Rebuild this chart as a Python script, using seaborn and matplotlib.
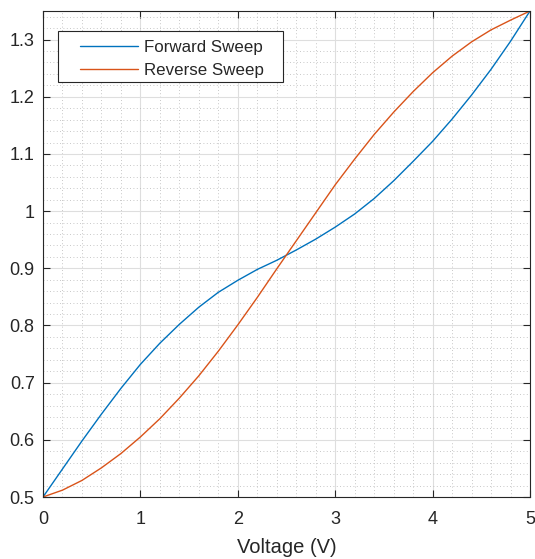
import matplotlib
matplotlib.use("Agg")
import matplotlib.pyplot as plt
import seaborn as sns
import pandas as pd
from matplotlib.ticker import MultipleLocator, FuncFormatter
from matplotlib.patches import Rectangle

voltage = [0.0, 0.2, 0.4, 0.6, 0.8, 1.0, 1.2, 1.4, 1.6, 1.8, 2.0, 2.2, 2.4,
           2.6, 2.8, 3.0, 3.2, 3.4, 3.6, 3.8, 4.0, 4.2, 4.4, 4.6, 4.8, 5.0]
forward = [0.500, 0.549, 0.598, 0.645, 0.690, 0.732, 0.769, 0.802, 0.832, 0.858,
           0.879, 0.898, 0.914, 0.932, 0.951, 0.972, 0.995, 1.022, 1.053, 1.087,
           1.122, 1.161, 1.203, 1.248, 1.297, 1.350]
reverse = [0.500, 0.512, 0.529, 0.551, 0.576, 0.605, 0.637, 0.673, 0.712, 0.755,
           0.801, 0.849, 0.899, 0.948, 0.997, 1.046, 1.091, 1.134, 1.173, 1.209,
           1.242, 1.271, 1.296, 1.317, 1.334, 1.350]
series_names = ["Forward Sweep", "Reverse Sweep"]
colors = ["#0072BD", "#D95319"]
x_ticks = [0, 1, 2, 3, 4, 5]
y_ticks = [0.5, 0.6, 0.7, 0.8, 0.9, 1.0, 1.1, 1.2, 1.3]

df = pd.DataFrame({
    "Voltage": voltage * 2,
    "Value": forward + reverse,
    "Series": [series_names[0]] * len(voltage) + [series_names[1]] * len(voltage),
})

sns.set_style("white")
plt.rcParams["font.family"] = ["Liberation Sans", "DejaVu Sans"]

W, H = 535, 559
fig = plt.figure(figsize=(W / 100, H / 100), dpi=100)
ax_l, ax_r, ax_t, ax_b = 43, 530, 11, 497
ax = fig.add_axes([ax_l / W, 1 - ax_b / H, (ax_r - ax_l) / W, (ax_b - ax_t) / H])

sns.lineplot(data=df, x="Voltage", y="Value", hue="Series",
             palette=dict(zip(series_names, colors)), linewidth=1.0,
             ax=ax, legend=False, sort=False)

ax.set_xlim(0, 5)
ax.set_ylim(0.5, 1.35)
ax.set_xticks(x_ticks)
ax.set_yticks(y_ticks)
ax.xaxis.set_minor_locator(MultipleLocator(0.2))
ax.yaxis.set_minor_locator(MultipleLocator(0.02))
ax.yaxis.set_major_formatter(FuncFormatter(lambda v, p: f"{v:g}"))
ax.xaxis.set_major_formatter(FuncFormatter(lambda v, p: f"{v:g}"))

ax.grid(which="major", color="#dedede", linewidth=0.8, linestyle="-")
ax.grid(which="minor", color="#b5b5b5", linewidth=0.6, linestyle=(0, (1, 3)))
ax.set_axisbelow(True)

for s in ax.spines.values():
    s.set_visible(True)
    s.set_color("#262626")
    s.set_linewidth(0.8)

ax.tick_params(which="major", direction="in", length=5, width=0.8,
               top=True, right=True, bottom=True, left=True,
               color="#262626", labelcolor="#262626", labelsize=13)
ax.tick_params(axis="x", which="major", pad=10)
ax.tick_params(axis="y", which="major", pad=6)
ax.tick_params(which="minor", length=0, top=False, right=False,
               bottom=False, left=False)

ax.set_xlabel("Voltage (V)", fontsize=14.5, color="#262626", labelpad=7)
ax.set_ylabel("")

aw, ah = ax_r - ax_l, ax_b - ax_t
# legend frame (MATLAB-like box)
bx0, bx1, by0, by1 = 58, 283, 31, 82
ax.add_patch(Rectangle(((bx0 - ax_l) / aw, 1 - (by1 - ax_t) / ah),
                       (bx1 - bx0) / aw, (by1 - by0) / ah,
                       transform=ax.transAxes, facecolor="white",
                       edgecolor="#262626", linewidth=0.8, zorder=4.5,
                       clip_on=False))

handles = [plt.Line2D([], [], color=c, linewidth=1.0) for c in colors]
leg = ax.legend(handles, series_names, loc="upper left",
                bbox_to_anchor=((80 - ax_l) / aw, 1 - (40 - ax_t) / ah),
                borderaxespad=0, borderpad=0,
                fontsize=12.2, frameon=False, handlelength=3.45,
                handletextpad=0.3, labelspacing=0.46)
leg.set_zorder(5)
for t in leg.get_texts():
    t.set_color("#262626")

fig.savefig("out.png", dpi=100)
